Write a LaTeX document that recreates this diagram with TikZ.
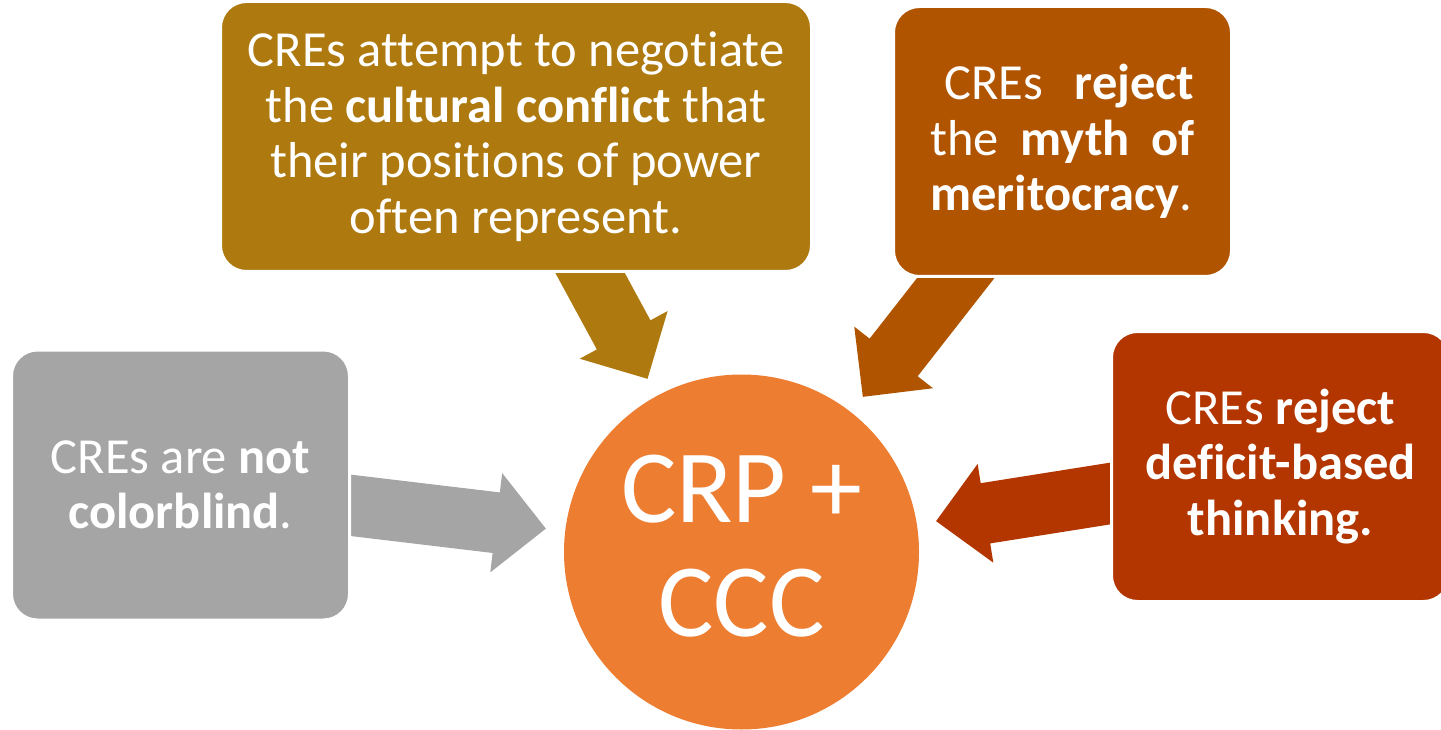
\documentclass[tikz,border=0pt]{standalone}
\usepackage{fontspec}
\setmainfont{Carlito}[Ligatures=NoCommon]
\usetikzlibrary{calc,backgrounds}
\definecolor{crporange}{HTML}{ED7D31}
\definecolor{cregray}{HTML}{A5A5A5}
\definecolor{cregold}{HTML}{AE790E}
\definecolor{crerust}{HTML}{B05400}
\definecolor{crered}{HTML}{B33600}
\tikzset{cre/.style={rectangle,rounded corners=26pt,draw=white,line width=3pt,text=white,align=center,inner sep=0pt,
			minimum width=338pt,minimum height=270pt,font=\fontsize{50.5}{55.5}\selectfont},
		push/.style={to path={let \p1=(\tikztostart), \p2=(\tikztotarget),
			\n1={atan2(\y2-\y1,\x2-\x1)}, \n2={veclen(\x2-\x1,\y2-\y1)} in
			([shift={(\p1)},rotate=\n1]0,30.5) -- ([shift={(\p1)},rotate=\n1]{\n2-247},30.5)
			-- ([shift={(\p1)},rotate=\n1]{\n2-247},50) -- ([shift={(\p1)},rotate=\n1]{\n2-197},0)
			-- ([shift={(\p1)},rotate=\n1]{\n2-247},-50) -- ([shift={(\p1)},rotate=\n1]{\n2-247},-30.5)
			-- ([shift={(\p1)},rotate=\n1]0,-30.5) -- cycle}}}

\begin{document}
\begin{tikzpicture}[x=1pt,y=-1pt,
		hub/.style={circle,fill=crporange,minimum size=355pt,inner sep=0pt,text=white,align=center,
			text depth=13pt,font=\fontsize{104}{114}\selectfont}]
	\useasboundingbox (0,0) rectangle (1441,730);
	\node[hub] (crp) at (741.5,552) {CRP +\\CCC};
	
	\node[cre,fill=cregray] (colorblind) at (180.5,485) {CREs are \textbf{not}\\\textbf{colorblind}.};
	\node[cre,fill=cregold,minimum width=591pt] (conflict) at (516,136.5) {CREs attempt to negotiate\\the \textbf{cultural conflict} that\\their positions of power\\often represent.};
	\node[cre,fill=crerust] (meritocracy) at (1062.5,141.5) {\makebox[264pt][s]{\hspace*{14pt}CREs \textbf{reject}}\\\makebox[264pt][s]{the \textbf{myth of}}\\\makebox[264pt][l]{\textbf{meritocracy}.}};
	\node[cre,fill=crered] (deficit) at (1280.5,466.5) {CREs \textbf{reject}\\\textbf{deficit-based}\\\textbf{thinking.}};
	
	\begin{scope}[on background layer]
		\fill[cregray] (colorblind) to[push] (crp);
		\fill[cregold] (conflict) to[push] (crp);
		\fill[crerust] (meritocracy) to[push] (crp);
		\fill[crered] (deficit) to[push] (crp);
	\end{scope}
\end{tikzpicture}
\end{document}
